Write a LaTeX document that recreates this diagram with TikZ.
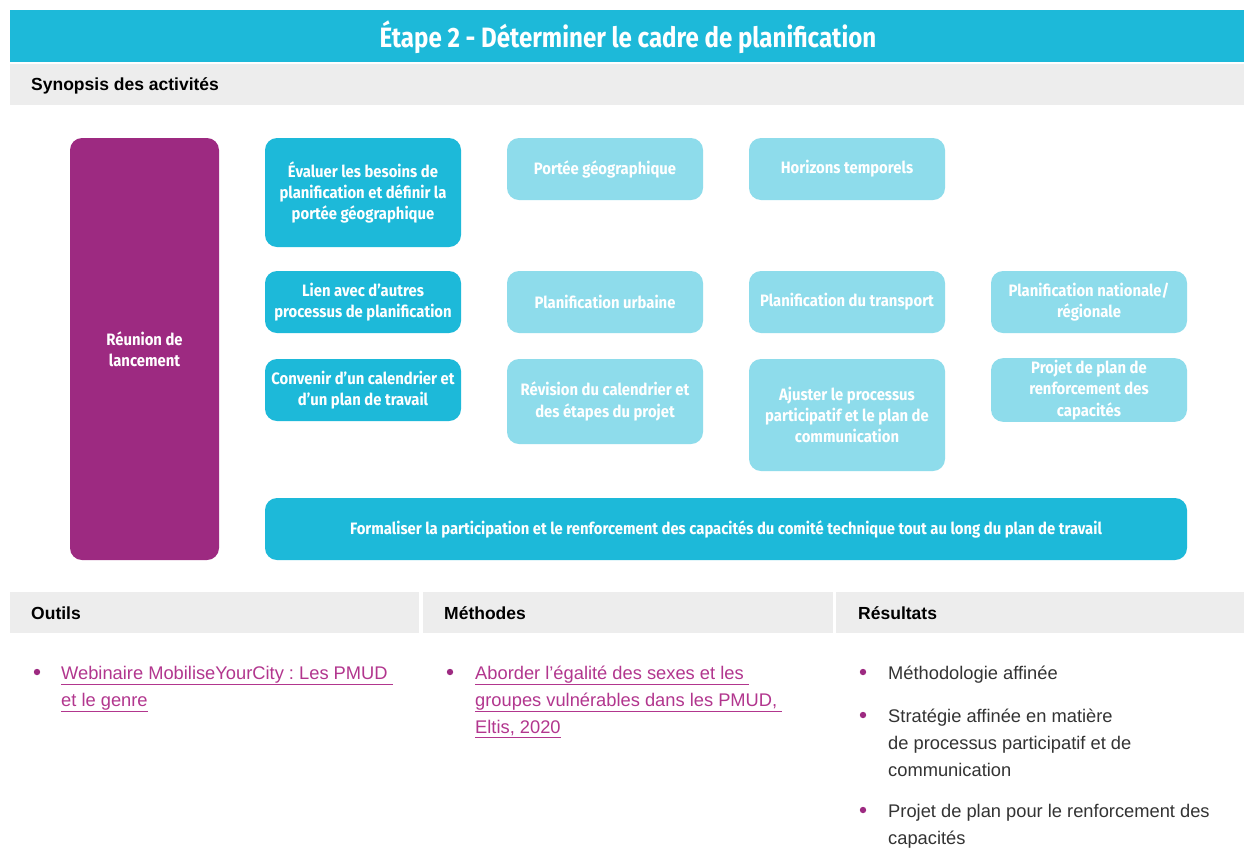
\documentclass[tikz,border=0pt]{standalone}
\usepackage{fontspec}
\setmainfont{Liberation Sans}
\newfontfamily\narrowf{Fira Sans}[FakeStretch=0.9]
\newfontfamily\titlef{Fira Sans}[FakeStretch=0.86]
\frenchspacing
\definecolor{cdark}{HTML}{1DB9D9}
\definecolor{clight}{HTML}{8EDCEB}
\definecolor{cpurple}{HTML}{9D2A81}
\definecolor{cgray}{HTML}{EDEDED}
\definecolor{clink}{HTML}{B2368E}
\definecolor{ctext}{HTML}{333333}
\tikzset{
  x=1pt, y=-1pt,
  box/.style={rounded corners=12pt, text=white, align=center, inner sep=2pt,
    font=\frenchspacing\narrowf\bfseries\fontsize{16.5}{21.3}\selectfont},
  dark/.style={box, fill=cdark},
  light/.style={box, fill=clight},
  purplebox/.style={box, fill=cpurple},
  bar/.style={fill=cgray},
  barlabel/.style={anchor=west, inner sep=0pt, text=black, font=\bfseries\fontsize{17.5}{20}\selectfont},
  item/.style={anchor=base west, inner sep=0pt, align=left, text=ctext, font=\frenchspacing\fontsize{18.3}{27.3}\selectfont},
  linkitem/.style={item, text=clink},
  dot/.style={fill=cpurple},
}
\begin{document}
\begin{tikzpicture}
\useasboundingbox (0,0) rectangle (1244,847);
\fill[white] (0,0) rectangle (1244,847);
% header
\fill[cdark] (10,10) rectangle (1244,62);
\node[text=white, font=\titlef\bfseries\fontsize{28}{32}\selectfont] (title) at (628,37) {Étape 2 - Déterminer le cadre de planification};
\fill[bar] (10,64) rectangle (1244,105);
\node[barlabel] (syn) at (31,86) {Synopsis des activités};
% boxes
\node[purplebox, minimum width=149pt, minimum height=422pt] (kick) at (144.5,349) {Réunion de\\lancement};
\node[dark, minimum width=196pt, minimum height=109pt] (b1) at (363,192.5) {Évaluer les besoins de\\planification et définir la\\portée géographique};
\node[dark, minimum width=196pt, minimum height=62pt] (b2) at (363,302) {Lien avec d’autres\\processus de planification};
\node[dark, minimum width=196pt, minimum height=62pt] (b3) at (363,390) {Convenir d’un calendrier et\\d’un plan de travail};
\node[light, minimum width=196pt, minimum height=62pt] (p1) at (605,169) {Portée géographique};
\node[light, minimum width=196pt, minimum height=62pt] (h1) at (847,169) {Horizons temporels};
\node[light, minimum width=196pt, minimum height=62pt] (u1) at (605,302) {Planification urbaine};
\node[light, minimum width=196pt, minimum height=62pt] (t1) at (847,302) {Planification du transport};
\node[light, minimum width=196pt, minimum height=62pt] (n1) at (1089,302) {Planification nationale/\\régionale};
\node[light, minimum width=196pt, minimum height=85pt] (r1) at (605,401.5) {Révision du calendrier et\\des étapes du projet};
\node[light, minimum width=196pt, minimum height=112pt] (a1) at (847,415) {Ajuster le processus\\participatif et le plan de\\communication};
\node[light, minimum width=196pt, minimum height=62pt] (c1) at (1089,390) {Projet de plan de\\renforcement des\\capacités};
\node[dark, minimum width=922pt, minimum height=62pt] (f1) at (726,529) {Formaliser la participation et le renforcement des capacités du comité technique tout au long du plan de travail};
% bottom bars
\fill[bar] (10,592) rectangle (419,633);
\fill[bar] (423,592) rectangle (833,633);
\fill[bar] (836,592) rectangle (1244,633);
\node[barlabel] (outils) at (31,613) {Outils};
\node[barlabel] (meth) at (444,613) {Méthodes};
\node[barlabel] (res) at (858,613) {Résultats};
% bullets (base anchor = last line baseline)
\fill[dot] (37,672) circle (3.2);
\node[linkitem] (o1) at (61,706.3) {\underline{Webinaire MobiliseYourCity : Les PMUD\ }\\\underline{et le genre}};
\fill[dot] (450,672) circle (3.2);
\node[linkitem] (m1) at (475,733.6) {\underline{Aborder l’égalité des sexes et les\ }\\\underline{groupes vulnérables dans les PMUD,\ }\\\underline{Eltis, 2020}};
\fill[dot] (863,672) circle (3.2);
\node[item] (r1t) at (888,679) {Méthodologie affinée};
\fill[dot] (863,715) circle (3.2);
\node[item] (r2t) at (888,776.6) {Stratégie affinée en matière\\de processus participatif et de\\communication};
\fill[dot] (863,810) circle (3.2);
\node[item] (r3t) at (888,844.3) {Projet de plan pour le renforcement des\\capacités};
\end{tikzpicture}
\end{document}
